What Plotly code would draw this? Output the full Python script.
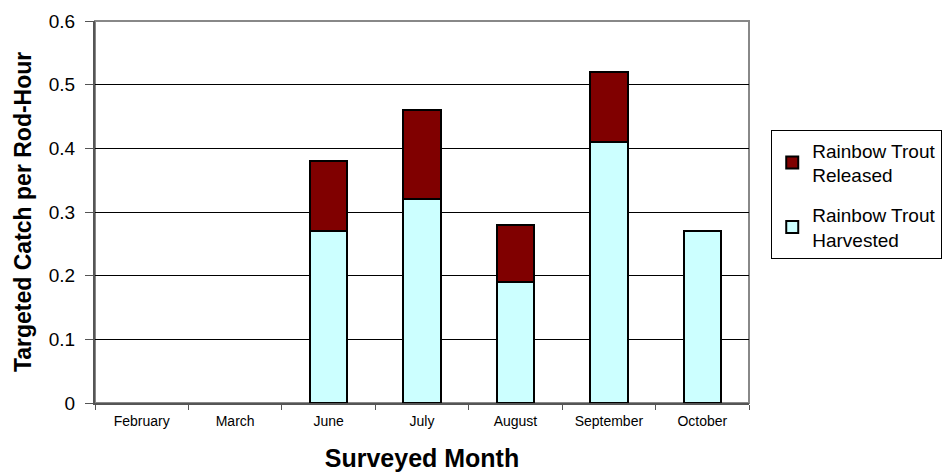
import plotly.graph_objects as go

months = ["February", "March", "June", "July", "August", "September", "October"]
harvested = [None, None, 0.27, 0.32, 0.19, 0.41, 0.27]
released = [None, None, 0.11, 0.14, 0.09, 0.11, None]

fig = go.Figure()
fig.add_trace(go.Bar(x=months, y=harvested, name="Rainbow Trout<br>Harvested",
                     legendgroup="h", legendrank=2,
                     marker=dict(color="#CCFFFF", line=dict(color="black", width=2))))
fig.add_trace(go.Bar(x=months, y=released, name="Rainbow Trout<br>Released",
                     legendgroup="r", legendrank=1,
                     marker=dict(color="#800000", line=dict(color="black", width=2))))

fig.update_layout(
    width=950, height=472,
    barmode="stack", bargap=0.6,
    paper_bgcolor="white", plot_bgcolor="white",
    margin=dict(l=95, r=201, t=21, b=69, autoexpand=False),
    font=dict(family="Arial, Liberation Sans, sans-serif", color="black"),
    legend=dict(traceorder="grouped", x=1.034, xanchor="left", y=0.545, yanchor="middle",
                bordercolor="black", borderwidth=1, font=dict(size=19),
                itemwidth=30, tracegroupgap=12),
    showlegend=True,
    annotations=[dict(text="<b>Targeted Catch per Rod-Hour</b>", textangle=-90,
                      xref="paper", yref="paper", x=-0.110, y=0.5,
                      xanchor="center", yanchor="middle", showarrow=False,
                      font=dict(size=23))],
)
fig.update_xaxes(
    title=dict(text="<b>Surveyed Month</b>", font=dict(size=25), standoff=22),
    tickfont=dict(size=14), ticks="outside", tickson="boundaries", ticklen=5,
    tickcolor="#555", showline=True, linecolor="#555", linewidth=2, mirror=False,
    ticklabelstandoff=4, automargin=False,
)
fig.update_yaxes(
    range=[0, 0.6], dtick=0.1, tickformat="~g", tickfont=dict(size=19),
    ticks="outside", ticklen=8, tickcolor="#555", ticklabelstandoff=6,
    showgrid=True, gridcolor="black", gridwidth=1,
    showline=True, linecolor="#555", linewidth=2, zeroline=False,
    automargin=False,
)
# gray border around plot area (right and top)
fig.add_shape(type="rect", xref="paper", yref="paper", x0=0, x1=1, y0=0, y1=1,
              line=dict(color="#888", width=2), layer="below")

fig.write_html("out.html", config={"displayModeBar": False},
               post_script="document.body.style.margin='0';")
